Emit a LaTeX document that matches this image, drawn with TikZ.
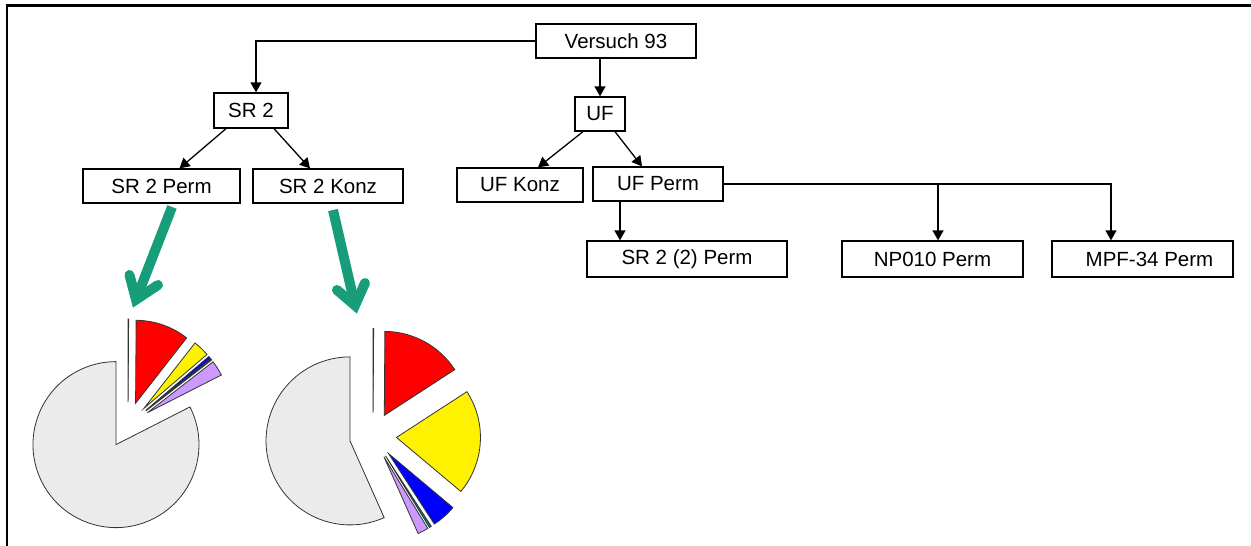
\documentclass[tikz,border=0pt]{standalone}
\usepackage{fontspec}
\setmainfont{Liberation Sans}
\usetikzlibrary{arrows.meta,calc}
\definecolor{arrowgreen}{RGB}{24,157,122}
\definecolor{pgray}{RGB}{235,235,235}
\definecolor{ppurple}{RGB}{204,153,255}
\definecolor{pteal}{RGB}{0,128,128}
% center, radius, explosion, start angle, end angle, colour
\newcommand\myslice[6]{\filldraw[slice, fill=#6] ($(#1)+({(#4+#5)/2}:#3)$) -- ++(#4:#2) arc[start angle=#4, end angle=#5, radius=#2] -- cycle;}
\begin{document}
\begin{tikzpicture}[x=1pt,y=1pt,
  box/.style={draw, line width=1.3pt, inner sep=0pt, font=\fontsize{20.5}{24}\selectfont},
  conn/.style={line width=1.3pt, -{Triangle[length=10pt,width=11pt]}},
  plain/.style={line width=1.3pt},
  bigarrow/.style={draw=arrowgreen, line width=10pt},
  slice/.style={draw=black!80, line width=0.8pt},
  frame/.style={line width=2.4pt}]
\useasboundingbox (0,0) rectangle (1251,-546);
\draw[frame] (7,-546) -- (7,-5.5) -- (1251,-5.5);

% nodes
\node[box, minimum width=160pt, minimum height=34pt] (V) at (616,-41) {Versuch 93};
\node[box, minimum width=74pt, minimum height=35pt] (SR2) at (251,-110.5) {SR 2};
\node[box, minimum width=50pt, minimum height=34pt] (UF) at (600,-114) {UF};
\node[box, minimum width=157pt, minimum height=34pt] (SRP) at (161.5,-186) {SR 2 Perm};
\node[box, minimum width=150pt, minimum height=34pt] (SRK) at (328,-186) {SR 2 Konz};
\node[box, minimum width=126pt, minimum height=34pt] (UFK) at (520,-185) {UF Konz};
\node[box, minimum width=130pt, minimum height=34pt] (UFP) at (658,-184) {UF Perm};
\node[box, minimum width=200pt, minimum height=36pt] (SR22) at (687,-259) {SR 2 (2) Perm};
\node[box, minimum width=181pt, minimum height=36pt] (NP) at (932.5,-259) {NP010 Perm};
\node[box, minimum width=181pt, minimum height=36pt] (MPF) at (1142.5,-259) {\hspace*{14pt}MPF-34 Perm};

% connectors
\draw[conn] (V.west) -| ([xshift=5pt]SR2.north);
\draw[conn] (UF.north |- V.south) -- (UF.north);
\draw[conn] ([xshift=-25pt]SR2.south) -- ([xshift=18pt]SRP.north);
\draw[conn] ([xshift=23pt]SR2.south) -- ([xshift=-18pt]SRK.north);
\draw[conn] ([xshift=-17pt]UF.south) -- ([xshift=18pt]UFK.north);
\draw[conn] ([xshift=15pt]UF.south) -- ([xshift=-16pt]UFP.north);
\draw[conn] ([xshift=-38pt]UFP.south) -- ([xshift=-38pt]UFP.south |- SR22.north);
\draw[conn] (UFP.east) -| ([xshift=-31.5pt]MPF.north);
\draw[conn] ([xshift=5.5pt]NP.north |- UFP.east) -- ([xshift=5.5pt]NP.north);

% green arrows
\coordinate (A1s) at (172,-207);
\coordinate (A1v) at (136,-299.6);
\coordinate (A1a) at (129.5,-275);
\coordinate (A1b) at (158,-285);
\draw[bigarrow] (A1s) -- (A1v);
\draw[bigarrow, line cap=round, line join=miter] (A1a) -- (A1v) -- (A1b);
\coordinate (A2s) at (333,-210);
\coordinate (A2v) at (355,-305.4);
\coordinate (A2a) at (337,-290);
\coordinate (A2b) at (365,-283);
\draw[bigarrow] (A2s) -- (A2v);
\draw[bigarrow, line cap=round, line join=miter] (A2a) -- (A2v) -- (A2b);

% pie 1
\coordinate (P1) at (128,-425);
\myslice{P1}{83}{23}{90}{89.6}{black}
\myslice{P1}{83}{23}{89.6}{52}{red}
\myslice{P1}{83}{23}{52}{40.5}{yellow}
\myslice{P1}{83}{23}{40.5}{38.5}{blue}
\myslice{P1}{83}{23}{38.5}{37.8}{pteal}
\myslice{P1}{83}{23}{37.8}{27}{ppurple}
\myslice{P1}{83}{23}{27}{-270}{pgray}

% pie 2
\coordinate (P2) at (373,-436);
\myslice{P2}{84}{23.5}{90}{89.6}{black}
\myslice{P2}{84}{23.5}{89.6}{33}{red}
\myslice{P2}{84}{23.5}{33}{-40}{yellow}
\myslice{P2}{84}{23.5}{-40}{-57}{blue}
\myslice{P2}{84}{23.5}{-57}{-58.5}{pteal}
\myslice{P2}{84}{23.5}{-58.5}{-66}{ppurple}
\myslice{P2}{84}{23.5}{-66}{-270}{pgray}
\end{tikzpicture}
\end{document}
